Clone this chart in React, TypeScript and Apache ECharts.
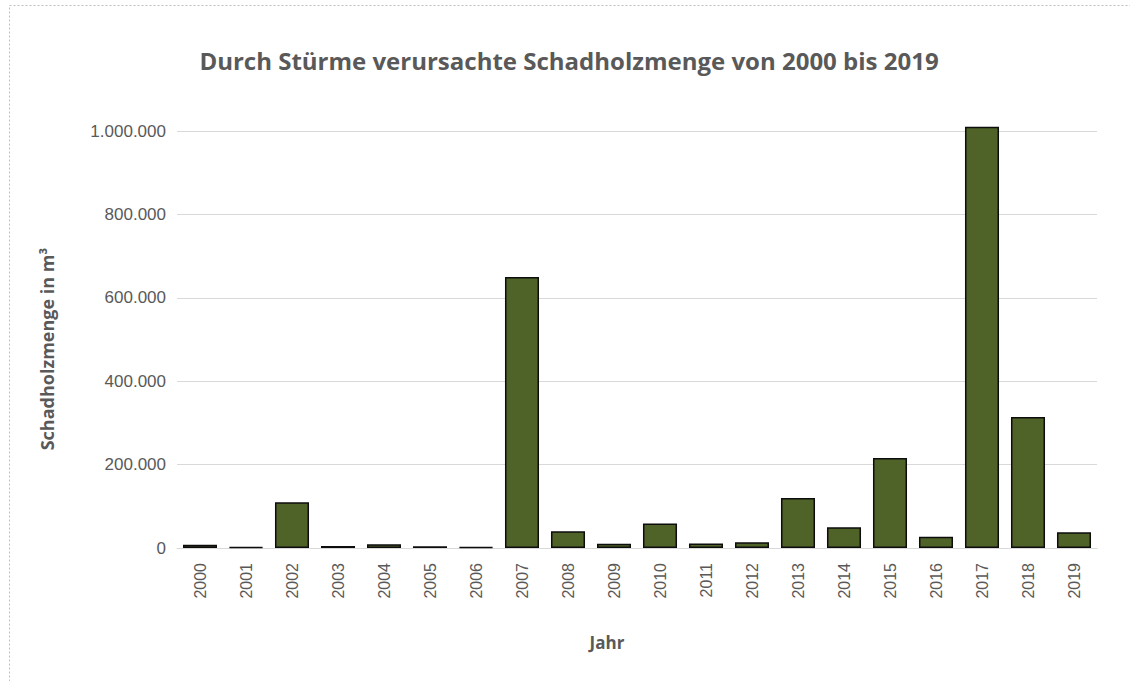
import React, { useEffect, useRef } from "react";
import * as echarts from "echarts";

const years = ["2000","2001","2002","2003","2004","2005","2006","2007","2008","2009","2010","2011","2012","2013","2014","2015","2016","2017","2018","2019"];
const values = [8000, 2000, 110000, 5000, 9000, 4000, 2000, 650000, 40000, 10000, 59000, 11000, 14000, 120000, 50000, 216000, 27000, 1010000, 314000, 38000];
const yTicks = [0, 200000, 400000, 600000, 800000, 1000000];

const titleText = "Durch Stürme verursachte Schadholzmenge von 2000 bis 2019";
const yName = "Schadholzmenge in m³";
const xName = "Jahr";

const fmt = (v: number) => v.toString().replace(/\B(?=(\d{3})+(?!\d))/g, ".");

export default function App() {
  const ref = useRef<HTMLDivElement>(null);
  useEffect(() => {
    const chart = echarts.init(ref.current!, null, { renderer: "svg" });
    chart.setOption({
      animation: false,
      backgroundColor: "#ffffff",
      graphic: [
        {
          type: "rect",
          shape: { x: 9.5, y: 5.5, width: 1140, height: 700 },
          style: { fill: "none", stroke: "#bfbfbf", lineWidth: 1, lineDash: [2, 2] },
          silent: true,
        },
        {
          type: "text",
          x: 569,
          y: 60,
          style: {
            text: titleText,
            fontFamily: "Open Sans",
            fontWeight: "bold",
            fontSize: 24,
            fill: "#595959",
            align: "center",
            verticalAlign: "middle",
          },
        },
        {
          type: "text",
          x: 47,
          y: 349,
          rotation: Math.PI / 2,
          style: {
            text: yName,
            fontFamily: "Open Sans",
            fontWeight: "bold",
            fontSize: 18,
            fill: "#595959",
            align: "center",
            verticalAlign: "middle",
          },
        },
        {
          type: "text",
          x: 607,
          y: 642,
          style: {
            text: xName,
            fontFamily: "Open Sans",
            fontWeight: "bold",
            fontSize: 17,
            fill: "#595959",
            align: "center",
            verticalAlign: "middle",
          },
        },
      ],
      grid: { left: 177, right: 33, top: 131, bottom: 681 - 548 },
      xAxis: {
        type: "category",
        data: years,
        axisTick: { show: false },
        axisLine: { lineStyle: { color: "#d9d9d9", width: 1 } },
        axisLabel: {
          rotate: 90,
          color: "#595959",
          fontFamily: "Liberation Sans",
          fontSize: 16,
          margin: 15,
          interval: 0,
        },
      },
      yAxis: {
        type: "value",
        min: 0,
        max: yTicks[yTicks.length - 1],
        interval: 200000,
        axisLine: { show: false },
        axisTick: { show: false },
        splitLine: { lineStyle: { color: "#d9d9d9", width: 1 } },
        axisLabel: {
          color: "#595959",
          fontFamily: "Liberation Sans",
          fontSize: 17,
          margin: 11,
          formatter: (v: number) => fmt(v),
        },
      },
      series: [
        {
          type: "bar",
          data: values,
          barWidth: "74%",
          clip: false,
          itemStyle: { color: "#4f6228", borderColor: "#0d0d0d", borderWidth: 1.5 },
        },
      ],
    });
    return () => chart.dispose();
  }, []);
  return <div ref={ref} style={{ position: "absolute", left: 0, top: 0, width: 1130, height: 681 }} />;
}
